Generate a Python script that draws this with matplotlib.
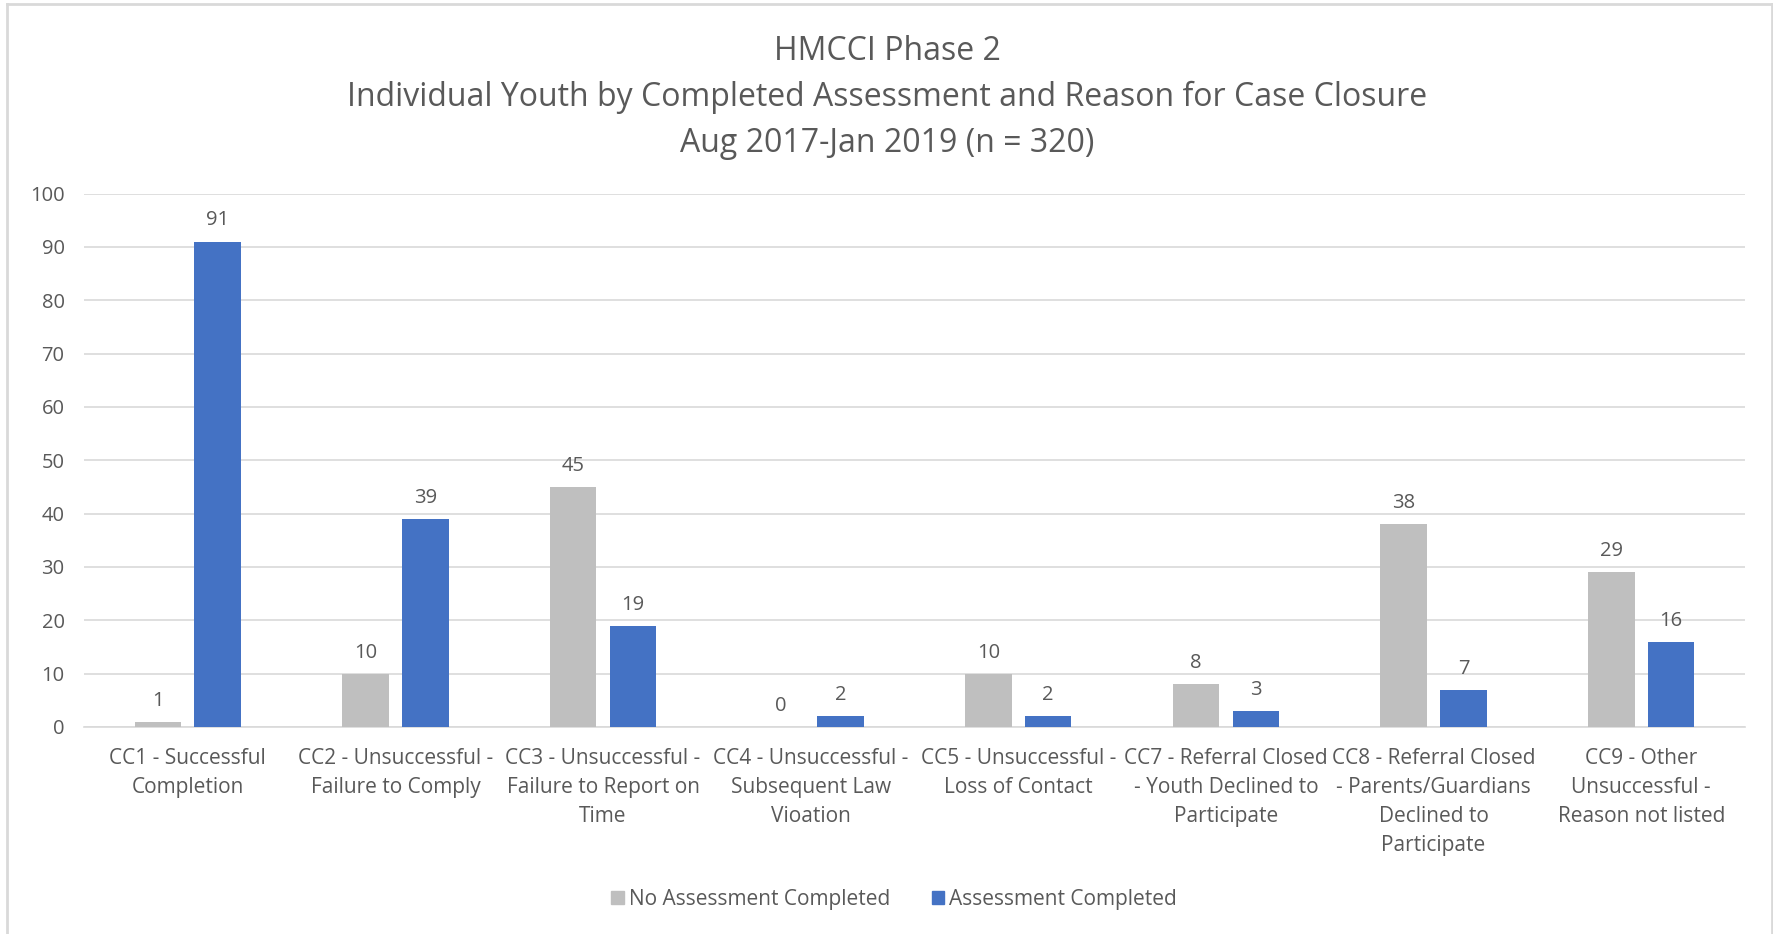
import matplotlib.pyplot as plt
import numpy as np
from matplotlib.lines import Line2D
from matplotlib.patches import Patch

plt.rcParams['font.family'] = ['Open Sans', 'DejaVu Sans']

categories = [
    "CC1 - Successful\nCompletion",
    "CC2 - Unsuccessful -\nFailure to Comply",
    "CC3 - Unsuccessful -\nFailure to Report on\nTime",
    "CC4 - Unsuccessful -\nSubsequent Law\nVioation",
    "CC5 - Unsuccessful -\nLoss of Contact",
    "CC7 - Referral Closed\n- Youth Declined to\nParticipate",
    "CC8 - Referral Closed\n- Parents/Guardians\nDeclined to\nParticipate",
    "CC9 - Other\nUnsuccessful -\nReason not listed",
]
no_assessment = [1, 10, 45, 0, 10, 8, 38, 29]
assessment = [91, 39, 19, 2, 2, 3, 7, 16]
series_names = ["No Assessment Completed", "Assessment Completed"]

gray = "#BFBFBF"
blue = "#4472C4"
txt = "#595959"

W, H = 1774, 934
fig = plt.figure(figsize=(W / 100, H / 100), dpi=100)
ax = fig.add_axes([84 / W, 1 - 727 / H, (1745 - 84) / W, (727 - 193.5) / H])

x = np.arange(len(categories))
bw = 0.224
off = 0.144
b1 = ax.bar(x - off, no_assessment, bw, color=gray, zorder=3)
b2 = ax.bar(x + off, assessment, bw, color=blue, zorder=3)

for bars, vals in ((b1, no_assessment), (b2, assessment)):
    for rect, v in zip(bars, vals):
        ax.annotate(str(v), (rect.get_x() + rect.get_width() / 2, v),
                    xytext=(0, 8), textcoords="offset points",
                    ha="center", va="bottom", fontsize=14.5, color=txt)

ax.set_xlim(-0.5, len(categories) - 0.5)
ax.set_ylim(0, 100)
ax.set_yticks(range(0, 101, 10))
ax.set_xticks(x)
ax.set_xticklabels(categories, fontsize=15, color=txt, linespacing=1.5)
ax.tick_params(axis="y", labelsize=14.5, labelcolor=txt, length=0, pad=14)
ax.tick_params(axis="x", length=0, pad=15)
ax.grid(axis="y", color="#D9D9D9", linewidth=1.2, zorder=0)
for s in ["top", "right", "left"]:
    ax.spines[s].set_visible(False)
ax.spines["bottom"].set_color("#D9D9D9")
ax.spines["bottom"].set_linewidth(1.2)

# title, three lines
fig.text(0.5, 1 - 51 / H, "HMCCI Phase 2", ha="center", va="center", fontsize=23, color=txt)
fig.text(0.5, 1 - 97 / H, "Individual Youth by Completed Assessment and Reason for Case Closure",
         ha="center", va="center", fontsize=23, color=txt)
fig.text(0.5, 1 - 143 / H, "Aug 2017-Jan 2019 (n = 320)", ha="center", va="center", fontsize=23, color=txt)

handles = [Patch(color=gray), Patch(color=blue)]
fig.legend(handles, series_names, loc="center", bbox_to_anchor=(0.504, 1 - 899 / H),
           ncol=2, frameon=False, fontsize=15, labelcolor=txt,
           handlelength=0.6, handleheight=0.6, handletextpad=0.25, columnspacing=2.0)

# light frame around the chart area
frame = dict(color="#D9D9D9", linewidth=2)
fig.add_artist(Line2D([7 / W, 7 / W], [0, 1 - 4 / H], transform=fig.transFigure, **frame))
fig.add_artist(Line2D([7 / W, 1772.5 / W], [1 - 4 / H, 1 - 4 / H], transform=fig.transFigure, **frame))
fig.add_artist(Line2D([1772.5 / W, 1772.5 / W], [0, 1 - 4 / H], transform=fig.transFigure, **frame))

fig.savefig("out.png", dpi=100, facecolor="white")
